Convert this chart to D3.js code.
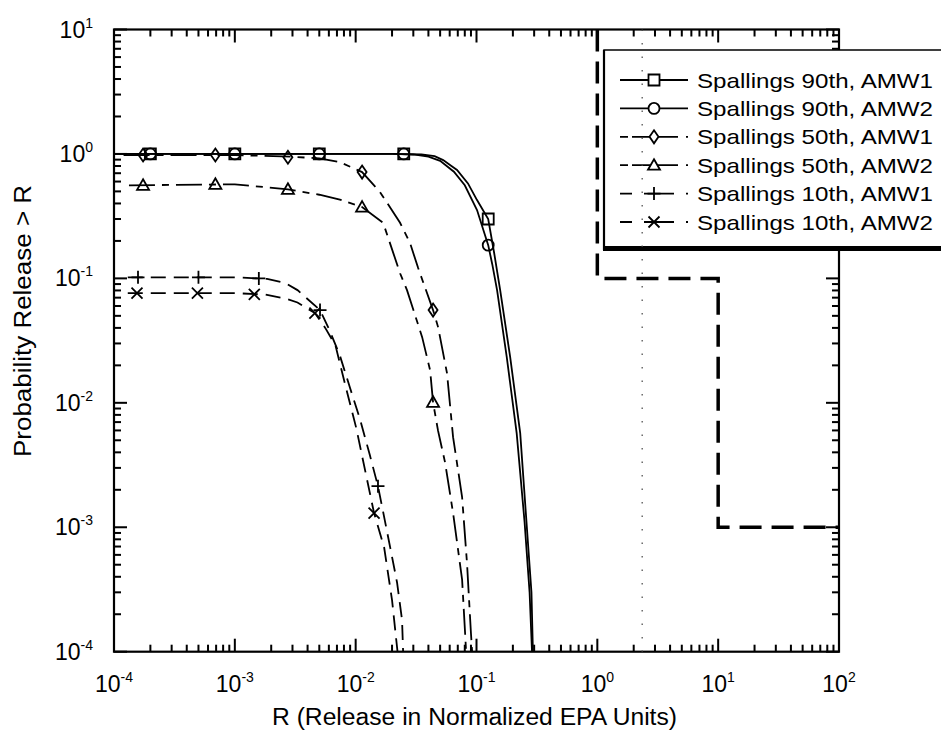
<!DOCTYPE html>
<html><head><meta charset="utf-8">
<script src="https://cdn.jsdelivr.net/npm/d3@7"></script>
<style>body{margin:0;background:#fff}svg{display:block}</style>
</head><body><svg id="c" width="941" height="733"></svg>
<script>
// ---------------- data ----------------
const legendLabels = ["Spallings 90th, AMW1","Spallings 90th, AMW2","Spallings 50th, AMW1","Spallings 50th, AMW2","Spallings 10th, AMW1","Spallings 10th, AMW2"];
const xMajor = [1e-4,1e-3,1e-2,1e-1,1,10,100];
const xExp   = ["-4","-3","-2","-1","0","1","2"];
const yMajor = [1e-4,1e-3,1e-2,1e-1,1,10];
const yExp   = ["-4","-3","-2","-1","0","1"];

// 90th AMW1 (squares)
const r90a1 = [1e-4,0.02,0.035,0.045,0.053,0.062,0.069,0.085,0.101,0.125,0.14,0.157,0.19,0.23,0.262,0.285,0.293];
const p90a1 = [1.0,1.0,0.99,0.96,0.893,0.80,0.743,0.58,0.426,0.30,0.16,0.0805,0.0233,0.0057,9.5e-4,3e-4,1e-4];
const mr90a1 = [2e-4,1e-3,5e-3,0.025,0.125];
const mp90a1 = [1.0,1.0,1.0,1.0,0.30];
// 90th AMW2 (circles)
const r90a2 = [1e-4,0.02,0.03,0.04,0.05,0.065,0.08,0.101,0.125,0.135,0.148,0.178,0.215,0.25,0.275,0.288];
const p90a2 = [1.0,1.0,0.99,0.95,0.88,0.72,0.56,0.354,0.185,0.13,0.0805,0.0233,0.0057,1.1e-3,3e-4,1e-4];
const mr90a2 = [2e-4,1e-3,5e-3,0.025,0.125];
const mp90a2 = [1.0,1.0,1.0,1.0,0.185];
// 50th AMW1 (diamonds)
const r50a1 = [1.2e-4,1e-3,3e-3,5e-3,7.4e-3,0.0113,0.0159,0.0233,0.0282,0.0329,0.0437,0.0481,0.057,0.064,0.076,0.0835,0.090,0.092];
const p50a1 = [0.98,0.98,0.95,0.92,0.86,0.715,0.494,0.28,0.192,0.121,0.0556,0.0406,0.0173,0.0053,1.75e-3,5.1e-4,1.4e-4,1e-4];
const mr50a1 = [1.74e-4,6.9e-4,2.75e-3,0.0113,0.0437];
const mp50a1 = [0.98,0.98,0.94,0.715,0.0556];
// 50th AMW2 (triangles)
const r50a2 = [1.33e-4,1e-3,2.75e-3,5e-3,7.4e-3,0.0113,0.0169,0.0233,0.0266,0.0355,0.0413,0.0437,0.048,0.055,0.064,0.076,0.0805,0.082];
const p50a2 = [0.56,0.57,0.52,0.47,0.43,0.374,0.279,0.11,0.0805,0.0337,0.0183,0.0101,6e-3,3.3e-3,1.3e-3,3.8e-4,1.4e-4,1e-4];
const mr50a2 = [1.74e-4,6.9e-4,2.75e-3,0.0113,0.0437];
const mp50a2 = [0.56,0.57,0.52,0.374,0.0101];
// 10th AMW1 (plus)
const r10a1 = [1.3e-4,1e-3,1.85e-3,2.6e-3,3.3e-3,5.07e-3,6.1e-3,7.4e-3,9e-3,0.0109,0.0131,0.0153,0.0193,0.022,0.0242,0.0247];
const p10a1 = [0.102,0.102,0.099,0.092,0.0805,0.0556,0.038,0.024,0.0131,7.3e-3,3.8e-3,2.14e-3,6.9e-4,3.6e-4,1.8e-4,1e-4];
const mr10a1 = [1.58e-4,5e-4,1.58e-3,5.07e-3,0.0153];
const mp10a1 = [0.102,0.102,0.1,0.0556,2.14e-3];
// 10th AMW2 (x)
const r10a2 = [1.3e-4,1e-3,1.8e-3,2.6e-3,3.3e-3,4.6e-3,5.6e-3,6.8e-3,8.2e-3,0.0101,0.0142,0.0172,0.02,0.0222];
const p10a2 = [0.0762,0.0762,0.074,0.069,0.064,0.0526,0.04,0.029,0.0139,6.3e-3,1.3e-3,6.9e-4,2.6e-4,1e-4];
const mr10a2 = [1.55e-4,4.9e-4,1.45e-3,4.6e-3,0.0142];
const mp10a2 = [0.0762,0.0762,0.0745,0.0526,1.3e-3];

// EPA release limit step line
const limitR = [1,1,10,10,100];
const limitP = [10,0.1,0.1,1e-3,1e-3];
// dotted reference line
const refR = [2.35,2.35];
const refP = [10,1e-4];

// ---------------- build ----------------
const markerTypes = ["square","circle","diamond","triangle","plus","x"];
const dashes = [null,null,"26,7,7,7","26,7,7,7","15,8","15,8"];
const legendDashes = [null,null,"8,4,46","8,4,46","12,12,30","12,12,30"];
const curveR = [r90a1,r90a2,r50a1,r50a2,r10a1,r10a2];
const curveP = [p90a1,p90a2,p50a1,p50a2,p10a1,p10a2];
const markR = [mr90a1,mr90a2,mr50a1,mr50a2,mr10a1,mr10a2];
const markP = [mp90a1,mp90a2,mp50a1,mp50a2,mp10a1,mp10a2];
const series = legendLabels.map((name,i)=>({
  name, marker:markerTypes[i], dash:dashes[i], ldash:legendDashes[i],
  pts: curveR[i].map((r,j)=>[r,curveP[i][j]]),
  mk: markR[i].map((r,j)=>[r,markP[i][j]])
}));

const L=114, R=839, T=29.5, B=651.7;
const x = d3.scaleLog().domain([1e-4,100]).range([L,R]);
const y = d3.scaleLog().domain([1e-4,10]).range([B,T]);
const svg = d3.select("#c");
const FONT = "'Liberation Sans', Arial, Helvetica, sans-serif";
svg.append("rect").attr("width",941).attr("height",733).attr("fill","#fff");

function minors(lo, hi){
  const out=[];
  for(let k=lo;k<hi;k++) for(let m=2;m<=9;m++) out.push(m*Math.pow(10,k));
  return out;
}
const xMinor = minors(-4, 2), yMinor = minors(-4, 1);

// ticks (inward, on all four sides)
const tickG = svg.append("g").attr("fill","#000");
function vTicks(vals, len){
  vals.forEach(v=>{
    const px = x(v);
    tickG.append("rect").attr("x",px-1).attr("y",B-len).attr("width",2).attr("height",len);
    tickG.append("rect").attr("x",px-1).attr("y",T).attr("width",2).attr("height",len);
  });
}
function hTicks(vals, len){
  vals.forEach(v=>{
    const py = y(v);
    tickG.append("rect").attr("x",L).attr("y",py-1).attr("width",len).attr("height",2);
    tickG.append("rect").attr("x",R-len).attr("y",py-1).attr("width",len).attr("height",2);
  });
}
vTicks(xMinor, 7); vTicks(xMajor, 13);
hTicks(yMinor, 7); hTicks(yMajor, 13);

svg.append("rect").attr("x",L).attr("y",T).attr("width",R-L).attr("height",B-T)
  .attr("fill","none").attr("stroke","#000").attr("stroke-width",2.2);

// tick labels
xMajor.forEach((v,i)=>{
  const t = svg.append("text").attr("x",x(v)).attr("y",692).attr("text-anchor","middle")
    .attr("font-family",FONT).attr("font-size",23).attr("fill","#000");
  t.append("tspan").text("10");
  t.append("tspan").attr("font-size",14).attr("dy",-10).text(xExp[i]);
});
yMajor.forEach((v,i)=>{
  const t = svg.append("text").attr("x",93).attr("y",y(v)+8).attr("text-anchor","end")
    .attr("font-family",FONT).attr("font-size",23).attr("fill","#000");
  t.append("tspan").text("10");
  t.append("tspan").attr("font-size",14).attr("dy",-10).text(yExp[i]);
});

// axis titles
svg.append("text").attr("x",474.5).attr("y",725).attr("text-anchor","middle")
  .attr("font-family",FONT).attr("font-size",23).attr("textLength",405).attr("lengthAdjust","spacingAndGlyphs")
  .text("R (Release in Normalized EPA Units)");
svg.append("text").attr("transform","translate(31,321) rotate(-90)").attr("text-anchor","middle")
  .attr("font-family",FONT).attr("font-size",23).attr("textLength",272).attr("lengthAdjust","spacingAndGlyphs")
  .text("Probability Release > R");

// limit step line
const lineGen = d3.line().x(d=>x(d[0])).y(d=>y(d[1]));
svg.append("path").datum(limitR.map((r,i)=>[r,limitP[i]])).attr("d",lineGen)
  .attr("fill","none").attr("stroke","#000").attr("stroke-width",3.5).attr("stroke-dasharray","22,10");

// markers
function markerPath(type){
  switch(type){
    case "square": return "M-5.5,-5.5H5.5V5.5H-5.5Z";
    case "circle": return "M-5.5,0A5.5,5.5 0 1,0 5.5,0A5.5,5.5 0 1,0 -5.5,0Z";
    case "diamond": return "M0,-6.5L4.5,0L0,6.5L-4.5,0Z";
    case "triangle": return "M0,-6L6,4.5L-6,4.5Z";
    case "plus": return "M-6.5,0H6.5M0,-6.5V6.5";
    case "x": return "M-5.5,-5.5L5.5,5.5M-5.5,5.5L5.5,-5.5";
  }
}

series.forEach(s=>{
  svg.append("path").datum(s.pts).attr("d",lineGen).attr("fill","none")
    .attr("stroke","#000").attr("stroke-width",1.8).attr("stroke-dasharray",s.dash);
  svg.append("g").selectAll("path").data(s.mk).join("path")
    .attr("transform",d=>`translate(${x(d[0])},${y(d[1])})`)
    .attr("d",markerPath(s.marker)).attr("fill","none").attr("stroke","#000").attr("stroke-width",1.8);
});

// legend
const lg = svg.append("g");
lg.append("rect").attr("x",604).attr("y",50).attr("width",400).attr("height",198)
  .attr("fill","#fff").attr("stroke","#000").attr("stroke-width",1.5);
lg.append("line").attr("x1",603).attr("x2",941).attr("y1",248.5).attr("y2",248.5).attr("stroke","#000").attr("stroke-width",5);
lg.append("line").attr("x1",604).attr("x2",604).attr("y1",50).attr("y2",250).attr("stroke","#000").attr("stroke-width",2.2);
series.forEach((s,i)=>{
  const cy = 80 + i*28.4;
  lg.append("line").attr("x1",620).attr("x2",688).attr("y1",cy).attr("y2",cy)
    .attr("stroke","#000").attr("stroke-width",1.8).attr("stroke-dasharray",s.ldash);
  lg.append("path").attr("transform",`translate(654,${cy})`).attr("d",markerPath(s.marker))
    .attr("fill","#fff").attr("stroke","#000").attr("stroke-width",1.8);
  lg.append("text").attr("x",697).attr("y",cy+7.5).attr("font-family",FONT).attr("font-size",21)
    .attr("textLength",236).attr("lengthAdjust","spacingAndGlyphs").text(s.name);
});

// dotted reference line (drawn on top)
svg.append("path").datum(refR.map((r,i)=>[r,refP[i]])).attr("d",lineGen)
  .attr("fill","none").attr("stroke","#444").attr("stroke-width",1.2).attr("stroke-dasharray","1.5,12");
</script></body></html>
